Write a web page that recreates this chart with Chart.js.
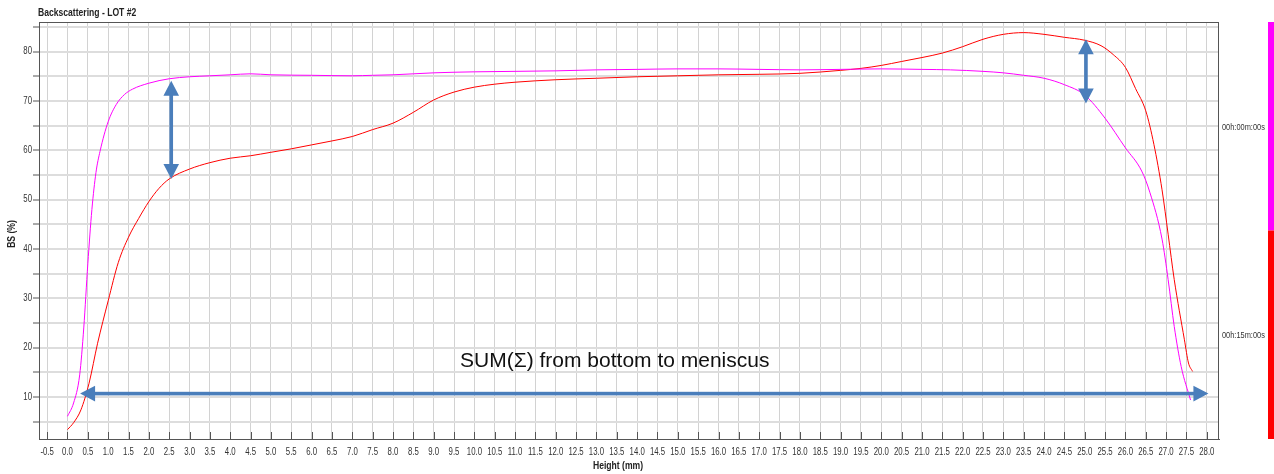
<!DOCTYPE html>
<html>
<head>
<meta charset="utf-8">
<script src="https://cdn.jsdelivr.net/npm/chart.js@4.4.1/dist/chart.umd.min.js"></script>
<style>
  html, body { margin: 0; padding: 0; background: #fff; }
  #wrap { width: 1274px; height: 474px; }
</style>
</head>
<body>
<div id="wrap"><canvas id="bs" width="1274" height="474"></canvas></div>
<script>
// scan at t = 00h:00m:00s (magenta)
const heights0 = [0.0, 0.15, 0.3, 0.4, 0.5, 0.6, 0.7, 0.8, 1.0, 1.2, 1.4, 1.6, 2.0, 2.5, 3.0, 3.5, 4.0, 4.5, 5.0, 6.0, 7.0, 7.5, 8.0, 9.0, 10.0, 11.0, 12.0, 13.0, 14.0, 15.0, 16.0, 17.0, 18.0, 19.0, 20.0, 21.0, 21.7, 22.5, 23.0, 23.5, 24.0, 24.5, 25.0, 25.5, 26.0, 26.4, 26.6, 26.9, 27.05, 27.2, 27.37, 27.6];
const bs0 = [6.1, 8.8, 14.5, 24.0, 37.0, 48.0, 55.5, 59.8, 65.8, 69.3, 71.3, 72.4, 73.6, 74.5, 74.9, 75.1, 75.3, 75.5, 75.3, 75.2, 75.1, 75.2, 75.3, 75.7, 75.9, 76.0, 76.1, 76.3, 76.4, 76.5, 76.5, 76.4, 76.3, 76.4, 76.5, 76.4, 76.3, 76.0, 75.7, 75.2, 74.6, 73.3, 71.2, 66.5, 60.5, 55.8, 51.5, 42.0, 33.8, 24.3, 16.2, 9.4];

// scan at t = 00h:15m:00s (red)
const heights15 = [0.0, 0.15, 0.33, 0.53, 0.74, 1.0, 1.25, 1.5, 1.75, 2.0, 2.25, 2.5, 3.0, 3.5, 4.0, 4.5, 5.0, 5.5, 6.0, 6.5, 7.0, 7.5, 8.0, 8.5, 9.0, 9.5, 10.0, 10.5, 11.0, 12.0, 13.0, 14.0, 15.0, 16.0, 17.0, 18.0, 19.0, 19.5, 20.0, 20.5, 21.0, 21.5, 22.0, 22.5, 23.0, 23.5, 24.0, 24.5, 25.0, 25.4, 25.7, 26.0, 26.25, 26.5, 26.7, 26.9, 27.05, 27.2, 27.45, 27.55, 27.65];
const bs15 = [3.4, 4.8, 7.4, 12.8, 20.9, 29.5, 37.3, 42.4, 46.2, 49.6, 52.3, 54.2, 56.2, 57.5, 58.4, 58.9, 59.6, 60.3, 61.1, 61.9, 62.8, 64.2, 65.5, 67.7, 70.2, 71.8, 72.8, 73.4, 73.8, 74.3, 74.6, 74.9, 75.1, 75.3, 75.4, 75.6, 76.2, 76.6, 77.2, 78.0, 78.8, 79.7, 81.0, 82.5, 83.5, 83.85, 83.5, 82.9, 82.3, 81.2, 79.4, 76.8, 72.5, 68.0, 61.2, 52.0, 43.0, 33.8, 21.6, 16.9, 15.2];

const scanLabels = ['00h:00m:00s', '00h:15m:00s'];
const scanColors = ['#ff00ff', '#ff0000'];

// axis ticks
const xTicks = Array.from({ length: 58 }, (_, i) => -0.5 + i * 0.5);
const yTicks = [5, 10, 15, 20, 25, 30, 35, 40, 45, 50, 55, 60, 65, 70, 75, 80, 85];

// annotation arrows, in data units: [x1, y1, x2, y2]
const arrows = [
  [2.55, 74.1, 2.55, 54.2],
  [25.03, 82.5, 25.03, 69.5],
  [0.31, 10.7, 28.04, 10.7]
];
const noteText = 'SUM(Σ) from bottom to meniscus';
const notePos = [13.45, 17.3];

const sans = '"Liberation Sans", Arial, sans-serif';

const toPoints = (xs, ys) => xs.map((h, i) => ({ x: h, y: ys[i] }));

// fake a narrow face by squeezing the text horizontally
const narrowText = (ctx, text, x, y, opts) => {
  const { size = 10, bold = false, align = 'left', squeeze = 0.78, color = '#333' } = opts || {};
  ctx.save();
  ctx.translate(x, y);
  ctx.scale(squeeze, 1);
  ctx.font = (bold ? 'bold ' : '') + size + 'px ' + sans;
  ctx.fillStyle = color;
  ctx.textAlign = align;
  ctx.textBaseline = 'middle';
  ctx.fillText(text, 0, 0);
  ctx.restore();
};

const drawArrow = (ctx, x1, y1, x2, y2) => {
  const ang = Math.atan2(y2 - y1, x2 - x1);
  const len = Math.hypot(x2 - x1, y2 - y1);
  const head = 15, half = 7.8, shaft = 3.6;
  ctx.save();
  ctx.translate(x1, y1);
  ctx.rotate(ang);
  ctx.fillStyle = '#4a7ebb';
  ctx.fillRect(head - 1, -shaft / 2, len - 2 * head + 2, shaft);
  ctx.beginPath();
  ctx.moveTo(0, 0); ctx.lineTo(head, -half); ctx.lineTo(head, half); ctx.closePath();
  ctx.moveTo(len, 0); ctx.lineTo(len - head, -half); ctx.lineTo(len - head, half); ctx.closePath();
  ctx.fill();
  ctx.restore();
};

const extras = {
  id: 'extras',
  afterDraw(chart) {
    const { ctx, chartArea: a, scales: { x, y } } = chart;
    ctx.save();

    // inner tick marks on x axis
    ctx.strokeStyle = '#555';
    ctx.lineWidth = 1;
    ctx.beginPath();
    x.ticks.forEach(t => {
      const px = Math.round(x.getPixelForValue(t.value)) + 0.5;
      ctx.moveTo(px, a.bottom - 7);
      ctx.lineTo(px, a.bottom);
    });
    ctx.stroke();

    // frame
    ctx.strokeRect(a.left + 0.5, a.top + 0.5, a.right - a.left - 1, a.bottom - a.top);

    // tick labels
    x.ticks.forEach(t => {
      narrowText(ctx, t.value.toFixed(1), x.getPixelForValue(t.value), a.bottom + 13, { align: 'center' });
    });
    y.ticks.forEach(t => {
      if (t.value % 10 === 0) narrowText(ctx, String(t.value), a.left - 7, y.getPixelForValue(t.value), { align: 'right' });
    });

    // arrows + note
    arrows.forEach(([x1, y1, x2, y2]) => {
      drawArrow(ctx, x.getPixelForValue(x1), y.getPixelForValue(y1), x.getPixelForValue(x2), y.getPixelForValue(y2));
    });
    ctx.fillStyle = '#111';
    ctx.font = '21px ' + sans;
    ctx.textAlign = 'center';
    ctx.textBaseline = 'middle';
    ctx.fillText(noteText, x.getPixelForValue(notePos[0]), y.getPixelForValue(notePos[1]));

    // titles
    narrowText(ctx, 'Backscattering - LOT #2', 38, 13, { size: 11, bold: true, color: '#222' });
    narrowText(ctx, 'Height (mm)', 618, 466, { size: 11, bold: true, align: 'center', color: '#222' });
    ctx.save();
    ctx.translate(12, 234);
    ctx.rotate(-Math.PI / 2);
    narrowText(ctx, 'BS (%)', 0, 0, { size: 11, bold: true, align: 'center', color: '#222' });
    ctx.restore();

    // time scale legend on the right
    const mid = (a.top + a.bottom) / 2;
    ctx.fillStyle = scanColors[0];
    ctx.fillRect(1268, a.top, 6, mid - a.top);
    ctx.fillStyle = scanColors[1];
    ctx.fillRect(1268, mid, 6, a.bottom - mid);
    narrowText(ctx, scanLabels[0], 1222, 127, { size: 9.5 });
    narrowText(ctx, scanLabels[1], 1222, 335, { size: 9.5 });

    ctx.restore();
  }
};

new Chart(document.getElementById('bs'), {
  type: 'line',
  data: {
    datasets: [
      { label: scanLabels[0], data: toPoints(heights0, bs0), borderColor: scanColors[0] },
      { label: scanLabels[1], data: toPoints(heights15, bs15), borderColor: scanColors[1] }
    ]
  },
  options: {
    responsive: false,
    animation: false,
    events: [],
    layout: { padding: { top: 22, right: 55, left: 0, bottom: 0 } },
    elements: {
      point: { radius: 0 },
      line: { borderWidth: 1, cubicInterpolationMode: 'monotone', fill: false }
    },
    plugins: { legend: { display: false }, tooltip: { enabled: false } },
    scales: {
      x: {
        type: 'linear',
        min: -0.7,
        max: 28.3,
        afterFit: s => { s.height = 35; },
        afterBuildTicks: s => { s.ticks = xTicks.map(v => ({ value: v })); },
        ticks: { display: false, autoSkip: false },
        grid: { color: '#d2d2d2', lineWidth: 1, drawTicks: false },
        border: { color: '#555' }
      },
      y: {
        min: 1.5,
        max: 86,
        afterFit: s => { s.width = 39; },
        afterBuildTicks: s => { s.ticks = yTicks.map(v => ({ value: v })); },
        ticks: { display: false, autoSkip: false },
        grid: { color: '#dddddd', lineWidth: 2, tickLength: 6, tickColor: '#555', tickWidth: 1 },
        border: { color: '#555' }
      }
    }
  },
  plugins: [extras]
});
</script>
</body>
</html>
